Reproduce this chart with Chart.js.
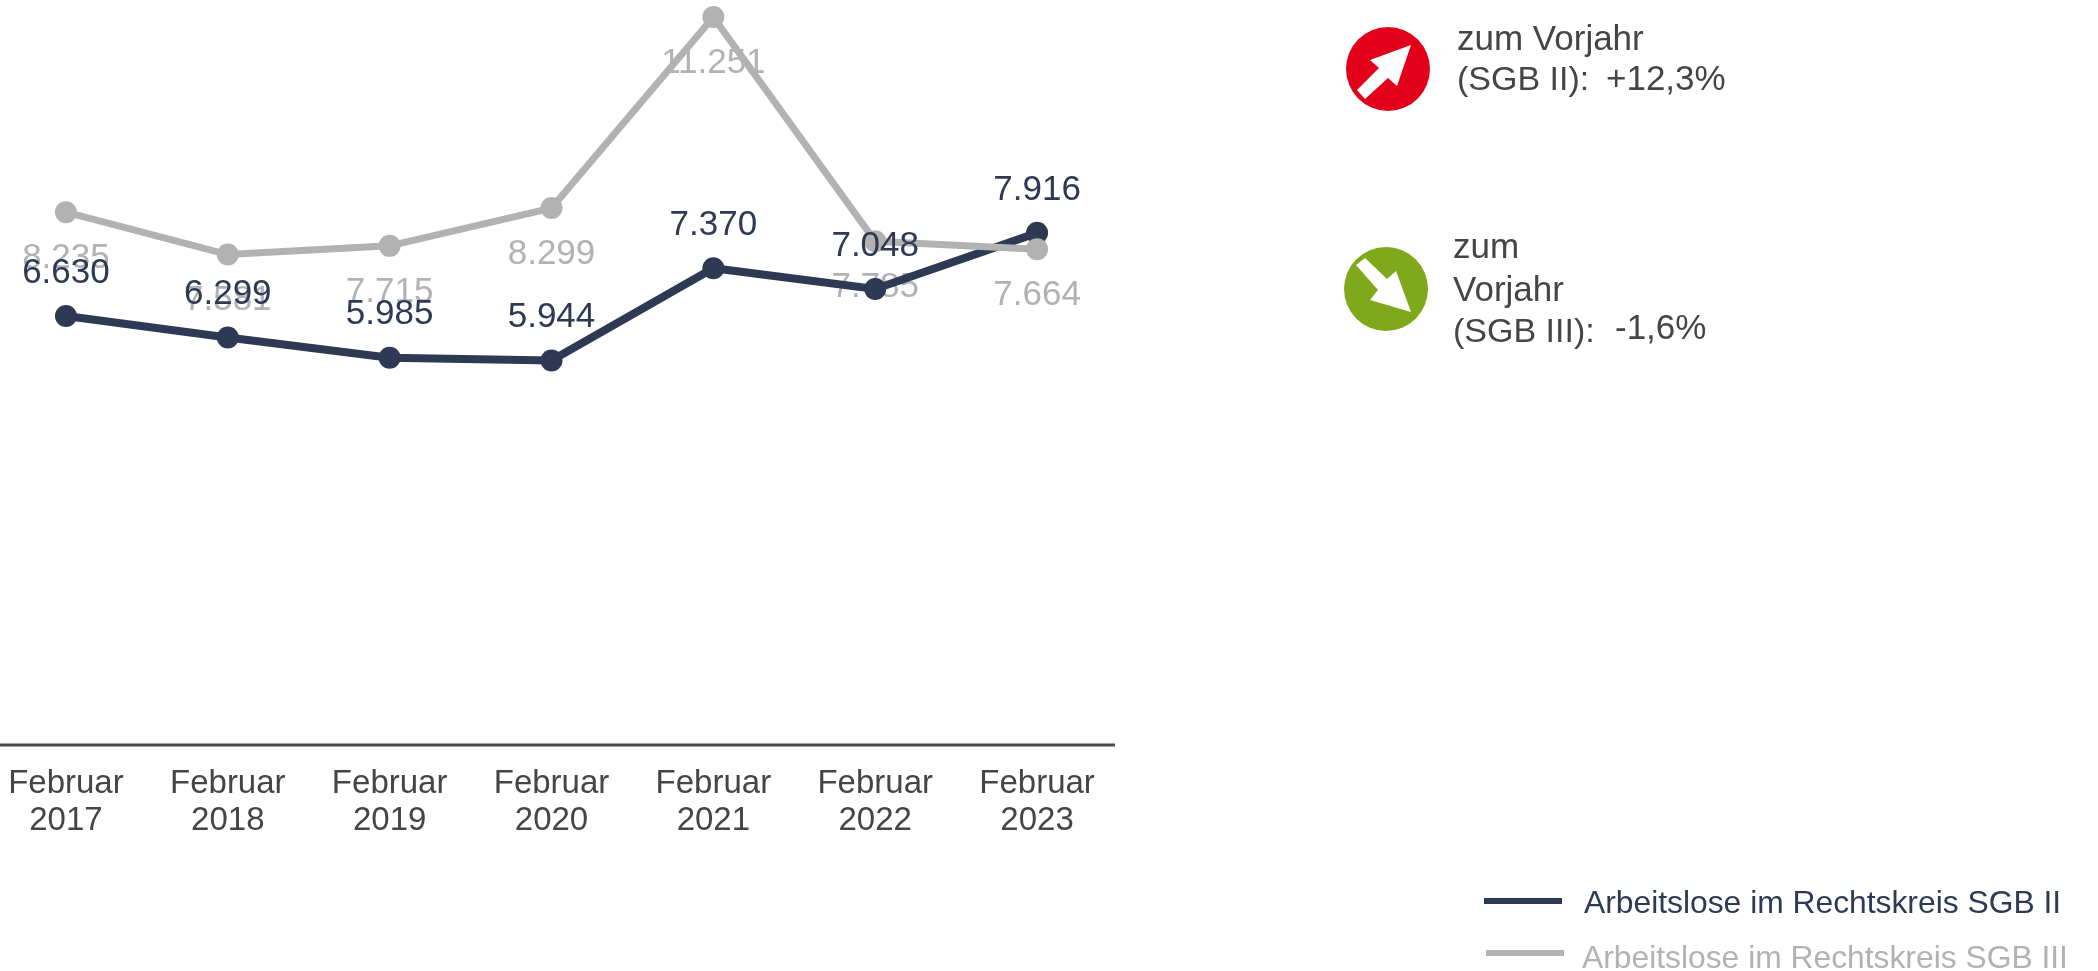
<!DOCTYPE html>
<html><head><meta charset="utf-8">
<script src="https://cdn.jsdelivr.net/npm/chart.js@4/dist/chart.umd.min.js"></script>
<style>
html,body{margin:0;padding:0;background:#fff;width:2098px;height:971px;overflow:hidden}
#wrap{position:absolute;left:0;top:0;width:2098px;height:971px;overflow:hidden}
#c{position:absolute;left:-15px;top:0}
.t{position:absolute;white-space:pre;font-family:"Liberation Sans",Arial,sans-serif;line-height:1;color:#454545}
svg{position:absolute}
</style></head><body>
<div id="wrap"><canvas id="c" width="2113" height="971"></canvas></div>
<script>
const months = ["Februar","Februar","Februar","Februar","Februar","Februar","Februar"];
const years = ["2017","2018","2019","2020","2021","2022","2023"];
const sgb2 = [6630,6299,5985,5944,7370,7048,7916];
const sgb3 = [8235,7581,7715,8299,11251,7785,7664];
const names = ["Arbeitslose im Rechtskreis SGB II","Arbeitslose im Rechtskreis SGB III"];
const DARK = "#2e3a54", GRAY = "#b2b2b2", TXT = "#454545";
const fmt = v => String(v).replace(/\B(?=(\d{3})+$)/g,".");

function drawLabels(chart, idx, dy, color){
  const ctx = chart.ctx, meta = chart.getDatasetMeta(idx);
  ctx.save();
  ctx.font = '35px "Liberation Sans", Arial, sans-serif';
  ctx.fillStyle = color; ctx.textAlign = "center"; ctx.textBaseline = "middle";
  meta.data.forEach((p,i)=>ctx.fillText(fmt(chart.data.datasets[idx].data[i]), p.x, p.y+dy));
  ctx.restore();
}
const valueLabels = {
  id:"valueLabels",
  beforeDatasetsDraw(chart){ drawLabels(chart,1,46,GRAY); },
  afterDatasetsDraw(chart){ drawLabels(chart,0,-43,DARK); }
};
const axisLine = {
  id:"axisLine",
  afterDraw(chart){
    const {ctx,scales:{y}} = chart;
    ctx.save(); ctx.strokeStyle = "#4a4a4a"; ctx.lineWidth = 3;
    ctx.beginPath(); ctx.moveTo(0,y.getPixelForValue(0)); ctx.lineTo(chart.chartArea.right-3,y.getPixelForValue(0)); ctx.stroke();
    ctx.restore();
  }
};
const chart = new Chart(document.getElementById("c"),{
  type:"line",
  data:{
    labels: months.map((m,i)=>[m,years[i]]),
    datasets:[
      {label:names[0],data:sgb2,borderColor:DARK,backgroundColor:DARK,borderWidth:8,pointRadius:11,pointHoverRadius:11,pointBackgroundColor:DARK,pointBorderWidth:0,tension:0,order:2,clip:false},
      {label:names[1],data:sgb3,borderColor:GRAY,backgroundColor:GRAY,borderWidth:7,pointRadius:11,pointHoverRadius:11,pointBackgroundColor:GRAY,pointBorderWidth:0,tension:0,order:1,clip:false}
    ]
  },
  options:{
    responsive:false,animation:false,devicePixelRatio:1,
    layout:{autoPadding:false,padding:{left:0,right:980,top:0,bottom:0}},
    plugins:{legend:{display:false},title:{display:false},tooltip:{enabled:false}},
    scales:{
      x:{offset:true,grid:{display:false},border:{display:false},
        afterFit(s){s.height=226;},
        ticks:{color:TXT,font:{family:'"Liberation Sans", Arial, sans-serif',size:33,lineHeight:1.12},padding:12,maxRotation:0,autoSkip:false}},
      y:{display:false,min:0,max:11515,afterFit(s){s.width=0;}}
    }
  },
  plugins:[valueLabels,axisLine]
});

const wrap = document.getElementById("wrap");
function text(s,x,base,size,color){
  const d=document.createElement("div"); d.className="t"; d.textContent=s;
  d.style.left=x+"px"; d.style.fontSize=size+"px"; d.style.top=(base-size*0.905-(size*1-size*1.149)/2)+"px";
  if(color) d.style.color=color; wrap.appendChild(d); return d;
}
function icon(cx,cy,color,points){
  const ns="http://www.w3.org/2000/svg",s=document.createElementNS(ns,"svg");
  s.setAttribute("width",90);s.setAttribute("height",90);s.style.left=(cx-45)+"px";s.style.top=(cy-45)+"px";
  s.setAttribute("viewBox","-45 -45 90 90");
  const c=document.createElementNS(ns,"circle");c.setAttribute("r",42);c.setAttribute("fill",color);s.appendChild(c);
  const p=document.createElementNS(ns,"polygon");p.setAttribute("points",points);p.setAttribute("fill","#fff");s.appendChild(p);
  wrap.appendChild(s);
}
icon(1388,69,"#e2001a","23,-24 9,17 0,9 -23,30 -31,21 -9,-1 -18,-9");
icon(1386,289,"#7fa81b","25,23 -16,11 -8,1 -30,-24 -21,-31 1,-10 10,-18");

text("zum Vorjahr",1457,49,35);
text("(SGB II):",1457,89,34);
text("+12,3%",1606,89,35);
text("zum",1453,257,35);
text("Vorjahr",1453,300,35);
text("(SGB III):",1453,341,34);
text("-1,6%",1615,338,35);

const colors=[DARK,GRAY], legendY=[901,953], legendX=[1484,1486], textX=[1584,1582], textBase=[913,968];
names.forEach((n,i)=>{
  const l=document.createElement("div");
  l.style.cssText=`position:absolute;left:${legendX[i]}px;top:${legendY[i]-3}px;width:78px;height:6px;background:${colors[i]}`;
  wrap.appendChild(l);
  text(n,textX[i],textBase[i],31.8,colors[i]);
});
</script></body></html>
